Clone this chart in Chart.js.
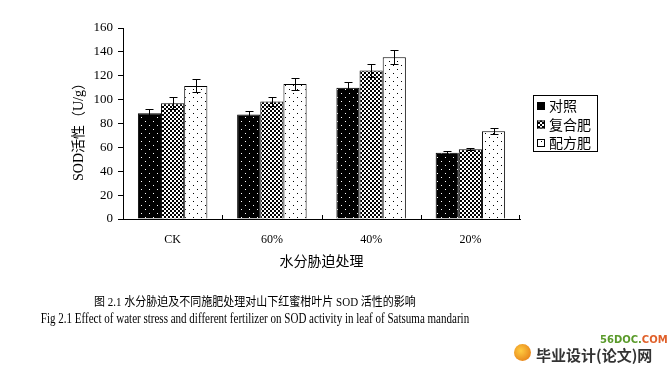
<!DOCTYPE html>
<html>
<head>
<meta charset="utf-8">
<script src="https://cdn.jsdelivr.net/npm/chart.js@4/dist/chart.umd.min.js"></script>
<style>
  body { margin: 0; background: #fff; }
  #wrap { position: relative; width: 670px; height: 369px; overflow: hidden; }
  .cap { position: absolute; left: -100px; width: 710px; text-align: center; color: #000; white-space: nowrap; transform-origin: 50% 50%; }
  #cap1 { top: 291px; font: 12.5px 'Liberation Serif', 'Noto Sans CJK SC', serif; transform: scaleX(0.88); }
  #cap2 { top: 310px; font: 14.5px 'Liberation Serif', serif; transform: scaleX(0.76); }
  #logo1 { position: absolute; left: 600px; top: 334px; font: bold 10px 'DejaVu Sans', sans-serif; color: #5a9a2a; }
  #logo1 span { color: #e0602a; }
  #logo2 { position: absolute; left: 536px; top: 344px; font: bold 15px 'Noto Sans CJK SC', sans-serif; color: #333; }
  #dot { position: absolute; left: 514px; top: 344px; width: 17px; height: 17px; border-radius: 50%; background: radial-gradient(circle at 40% 40%, #ffcc40, #e07010); }
</style>
</head>
<body>
<div id="wrap">
  <canvas id="chart" width="670" height="369"></canvas>
  <div class="cap" id="cap1">图 2.1 水分胁迫及不同施肥处理对山下红蜜柑叶片 SOD 活性的影响</div>
  <div class="cap" id="cap2">Fig 2.1 Effect of water stress and different fertilizer on SOD activity in leaf of Satsuma mandarin</div>
  <div id="dot"></div>
  <div id="logo1">56DOC.<span>COM</span></div>
  <div id="logo2">毕业设计(论文)网</div>
</div>
<script>
// data
const categories = ['CK', '60%', '40%', '20%'];
const seriesNames = ['对照', '复合肥', '配方肥'];
const controlVals = [88.5, 87.5, 110, 55.5];
const compoundVals = [97, 98.5, 124.5, 58.5];
const formulaVals = [111.5, 113, 135.5, 73.5];
const controlErr = [4, 3, 5, 1.5];
const compoundErr = [5, 4, 5.5, 1];
const formulaErr = [5.5, 5, 6, 2.5];
const yTicks = [0, 20, 40, 60, 80, 100, 120, 140, 160];

// fill patterns
function makePattern(w, h, bg, fg, cells) {
    const c = document.createElement('canvas');
    c.width = w; c.height = h;
    const g = c.getContext('2d');
    g.fillStyle = bg;
    g.fillRect(0, 0, w, h);
    g.fillStyle = fg;
    cells.forEach(d => g.fillRect(d[0], d[1], d[2] || 1, d[3] || 1));
    return g.createPattern(c, 'repeat');
}
const darkFill = makePattern(8, 8, '#000', '#fff', [[1, 1], [5, 5]]);
const checkFill = makePattern(4, 4, '#000', '#fff', [[2, 0, 2, 2], [0, 2, 2, 2]]);
const lightFill = makePattern(8, 8, '#fff', '#000', [[1, 1], [5, 5]]);

const serif = "'Liberation Serif', 'Noto Sans CJK SC', serif";
const cjk = "'Noto Sans CJK SC', sans-serif";

// error bars
const errorBars = {
    id: 'errorBars',
    afterDatasetsDraw(chart) {
        const ctx = chart.ctx;
        const y = chart.scales.y;
        ctx.save();
        ctx.strokeStyle = '#000';
        ctx.lineWidth = 1;
        chart.data.datasets.forEach((ds, i) => {
            chart.getDatasetMeta(i).data.forEach((bar, j) => {
                const x = Math.round(bar.x) + 0.5;
                const hi = Math.round(y.getPixelForValue(ds.data[j] + ds.err[j])) + 0.5;
                const lo = Math.round(y.getPixelForValue(ds.data[j] - ds.err[j])) + 0.5;
                ctx.beginPath();
                ctx.moveTo(x, lo); ctx.lineTo(x, hi);
                ctx.moveTo(x - 4, hi); ctx.lineTo(x + 4, hi);
                ctx.moveTo(x - 4, lo); ctx.lineTo(x + 4, lo);
                ctx.stroke();
            });
        });
        ctx.restore();
    }
};

// inner category ticks, axis titles and boxed legend
const extras = {
    id: 'extras',
    afterDraw(chart) {
        const ctx = chart.ctx;
        const area = chart.chartArea;
        const x = chart.scales.x;
        ctx.save();
        ctx.strokeStyle = '#000';
        ctx.lineWidth = 1;
        ctx.beginPath();
        for (let i = 1; i <= categories.length; i++) {
            const px = i < categories.length
                ? Math.round((x.getPixelForTick(i - 1) + x.getPixelForTick(i)) / 2) + 0.5
                : Math.round(area.right) - 0.5;
            ctx.moveTo(px, area.bottom);
            ctx.lineTo(px, area.bottom - 4);
        }
        ctx.stroke();

        // x title
        ctx.fillStyle = '#000';
        ctx.textAlign = 'center';
        ctx.textBaseline = 'middle';
        ctx.font = '14px ' + cjk;
        ctx.fillText('水分胁迫处理', (area.left + area.right) / 2, area.bottom + 42);

        // y title
        ctx.save();
        ctx.translate(79, (area.top + area.bottom) / 2 + 5);
        ctx.rotate(-Math.PI / 2);
        ctx.font = '14px ' + serif;
        ctx.fillText('SOD活性（U/g）', 0, 0);
        ctx.restore();

        // legend
        const lx = area.right + 13, ly = 95, lw = 64, lh = 56;
        ctx.strokeRect(lx + 0.5, ly + 0.5, lw, lh);
        ctx.textAlign = 'left';
        ctx.font = '14px ' + cjk;
        chart.data.datasets.forEach((ds, i) => {
            const cy = ly + 11 + i * 18.5;
            ctx.fillStyle = ds.backgroundColor;
            ctx.fillRect(lx + 4, cy - 4, 8, 8);
            ctx.strokeRect(lx + 4.5, cy - 3.5, 7, 7);
            ctx.fillStyle = '#000';
            ctx.fillText(ds.label, lx + 16, cy);
        });
        ctx.restore();
    }
};

function makeSet(label, data, err, fill) {
    return {
        label: label,
        data: data,
        err: err,
        backgroundColor: fill,
        borderColor: '#000',
        borderWidth: 1,
        categoryPercentage: 0.7,
        barPercentage: 1
    };
}

new Chart(document.getElementById('chart'), {
    type: 'bar',
    data: {
        labels: categories,
        datasets: [
            makeSet(seriesNames[0], controlVals, controlErr, darkFill),
            makeSet(seriesNames[1], compoundVals, compoundErr, checkFill),
            makeSet(seriesNames[2], formulaVals, formulaErr, lightFill)
        ]
    },
    options: {
        responsive: false,
        animation: false,
        layout: { padding: { left: 0, right: 150, top: 28, bottom: 0 } },
        plugins: { legend: { display: false }, tooltip: { enabled: false } },
        scales: {
            x: {
                grid: { display: false, drawTicks: false },
                border: { display: true, color: '#000', width: 1 },
                ticks: { color: '#000', padding: 14, font: { family: serif, size: 12 } },
                afterFit: s => { s.height = 150; }
            },
            y: {
                min: 0,
                max: 160,
                afterBuildTicks: s => { s.ticks = yTicks.map(v => ({ value: v })); },
                grid: { drawOnChartArea: false, drawTicks: true, tickLength: 5, color: '#000' },
                border: { display: true, color: '#000', width: 1 },
                ticks: { color: '#000', padding: 5, font: { family: serif, size: 13 } },
                afterFit: s => { s.width = 123; }
            }
        }
    },
    plugins: [errorBars, extras]
});
</script>
</body>
</html>
